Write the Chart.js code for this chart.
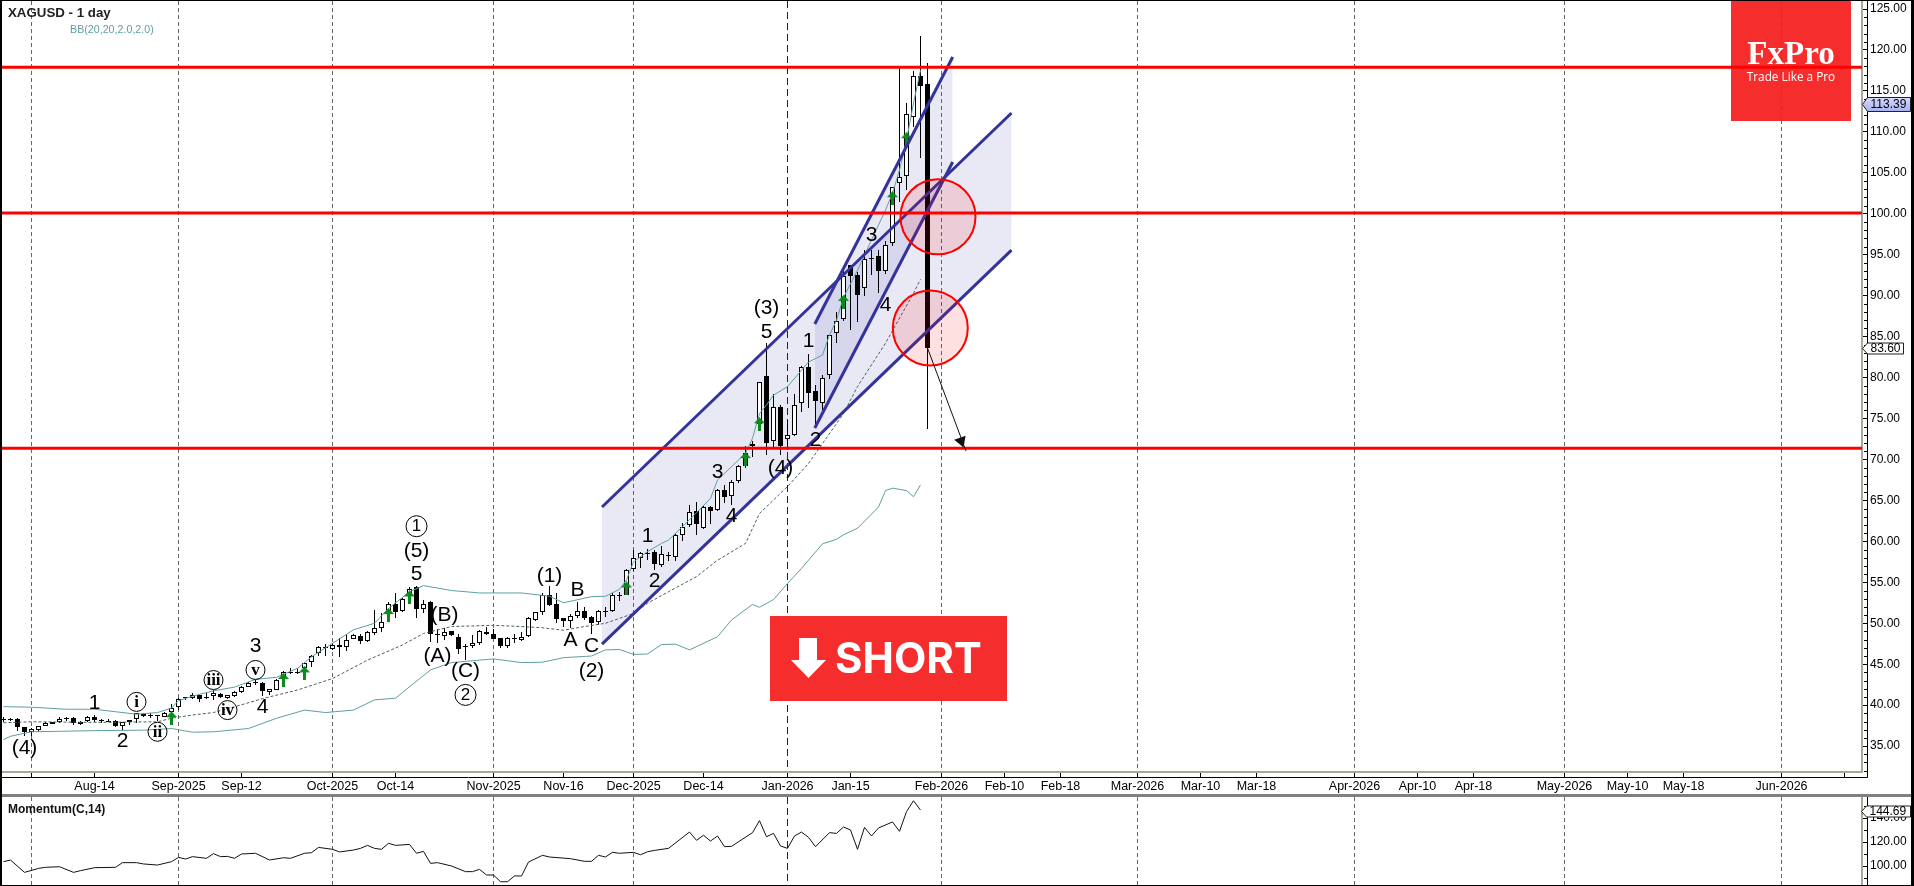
<!DOCTYPE html>
<html>
<head>
<meta charset="utf-8">
<title>XAGUSD - 1 day</title>
<script src="https://cdn.jsdelivr.net/npm/chart.js@4"></script>
<style>
  html, body { margin: 0; padding: 0; background: #fff; overflow: hidden; }
  #wrap { position: relative; width: 1914px; height: 886px; overflow: hidden; }
  #wrap canvas { position: absolute; left: 0; }
  #price { top: 0; }
  #momentum { top: 797px; }
  .frame { position: absolute; background: #000; }
</style>
</head>
<body>
<div id="wrap">
  <canvas id="price" width="1914" height="795"></canvas>
  <canvas id="momentum" width="1914" height="89"></canvas>
  <div class="frame" style="left:0;top:0;width:1914px;height:1px"></div>
  <div class="frame" style="left:0;top:0;width:2px;height:886px"></div>
  <div class="frame" style="left:1911px;top:0;width:3px;height:886px"></div>
  <div class="frame" style="left:0;top:885px;width:1914px;height:1px"></div>
  <div class="frame" style="left:2px;top:794px;width:1909px;height:3px;background:#808080"></div>
</div>
<script>
// OHLC, one entry per trading day
const opens = [
  38.3,38.3,38.35,37.3,36.75,37.0,37.45,37.9,37.9,38.3,
  38.45,37.7,38.05,38.6,38.15,38.1,38.1,37.5,37.9,38.3,
  38.95,38.75,38.75,38.6,39.15,39.8,40.95,40.9,41.25,40.85,
  41.1,41.4,40.9,41.1,41.65,42.25,42.8,42.7,41.55,41.9,
  43.5,44.1,44.1,44.5,45.25,46.35,47.05,46.9,47.4,47.05,
  48.1,48.5,47.85,48.85,49.4,51.55,52.4,51.5,53.5,54.4,
  51.8,52.55,48.7,48.45,49.0,48.35,47.2,47.2,47.65,48.95,
  48.65,48.2,47.25,48.1,47.95,48.5,50.45,51.35,53.4,52.35,
  50.6,50.3,50.85,51.45,50.75,50.2,51.5,51.55,53.4,53.5,
  56.6,58.0,58.5,58.7,57.15,58.3,58.15,60.75,61.95,63.7,
  61.6,64.15,63.8,66.25,65.55,67.4,69.2,71.65,74.3,80.2,
  72.25,76.4,72.45,73.0,76.85,81.25,78.35,76.95,80.35,85.4,
  87.1,93.75,92.5,90.95,94.5,94.85,93.0,96.4,103.75,104.6,
  111.8,116.8,115.85
];
const highs = [
  38.5,38.4,38.4,37.3,37.2,37.5,37.95,38.0,38.6,38.6,
  38.5,38.05,38.7,38.85,38.3,38.35,38.25,38.0,38.25,39.05,
  39.0,39.0,38.85,39.15,40.15,40.85,41.05,41.5,41.3,41.45,
  41.85,41.45,41.3,41.75,42.3,42.8,43.05,42.85,42.0,43.15,
  44.2,44.55,44.55,45.3,46.1,47.25,47.5,47.6,48.15,48.7,
  48.7,48.65,49.1,51.6,51.3,52.65,53.75,53.05,54.4,54.55,
  52.85,52.7,49.25,49.45,49.1,48.65,47.45,48.55,49.2,49.55,
  49.35,48.25,48.35,48.65,48.95,50.8,51.4,53.75,54.55,53.75,
  50.7,51.1,52.6,52.0,50.85,51.6,51.95,53.65,53.85,56.6,
  58.95,58.75,59.05,58.95,59.45,58.75,61.0,62.2,64.45,64.8,
  64.3,64.3,66.35,66.9,67.55,69.3,71.65,72.3,79.4,84.25,
  78.05,76.65,74.8,78.0,81.4,82.85,79.1,80.3,85.15,88.05,
  93.25,93.8,92.9,95.6,95.6,95.6,96.7,103.25,118.0,113.5,
  117.45,121.7,118.4
];
const lows = [
  38.0,38.1,36.9,36.2,36.2,36.7,37.4,37.7,37.85,38.1,
  37.55,37.55,38.0,37.9,37.85,37.9,37.3,36.95,37.55,37.8,
  38.6,38.45,38.1,38.55,38.6,39.4,40.65,40.7,40.4,40.7,
  40.65,40.9,40.7,40.95,41.5,42.2,42.45,41.1,41.25,41.85,
  43.05,43.8,43.8,44.2,44.7,46.05,46.0,46.7,45.9,46.65,
  48.05,47.45,47.75,48.55,48.95,50.4,50.6,51.4,52.45,50.7,
  51.3,47.75,47.55,47.95,48.45,46.25,45.5,46.95,47.35,48.55,
  48.05,46.95,46.95,47.55,47.85,48.35,50.3,51.0,52.1,50.05,
  49.5,49.4,50.6,50.4,48.7,49.8,50.8,51.4,52.75,53.4,
  56.4,56.7,57.7,56.5,56.9,57.6,57.65,60.1,61.8,60.8,
  61.45,62.1,63.75,64.65,64.45,67.15,68.9,70.3,73.6,70.55,
  71.55,70.55,71.15,72.85,75.85,76.25,74.0,76.05,79.8,84.2,
  86.9,85.8,86.8,89.9,92.5,90.3,92.7,96.05,101.45,102.9,
  110.6,106.8,73.7
];
const closes = [
  38.2,38.25,37.3,36.7,37.15,37.45,37.85,37.75,38.35,38.4,
  37.85,38.0,38.6,38.2,38.05,38.05,37.5,37.95,38.2,39.0,
  38.65,38.65,38.7,39.1,39.65,40.8,40.9,41.25,40.7,41.05,
  41.45,40.95,41.25,41.65,42.25,42.75,42.75,41.75,41.95,43.1,
  44.1,44.05,44.05,45.2,46.05,47.05,47.0,47.35,47.1,48.0,
  48.6,47.8,48.9,49.4,50.1,52.35,51.4,53.0,54.15,51.8,
  52.4,48.75,48.65,48.95,48.6,46.85,47.25,47.65,49.05,48.75,
  48.1,47.25,48.15,48.15,48.35,50.6,51.35,53.4,52.2,50.55,
  50.3,50.85,51.45,50.65,50.05,51.45,51.55,53.45,53.45,56.45,
  58.0,58.55,58.55,57.2,58.4,58.35,60.8,61.8,63.6,62.1,
  64.15,63.75,66.25,65.45,67.2,69.2,70.85,71.95,79.4,72.05,
  76.4,71.65,72.95,76.6,81.25,78.15,77.1,80.0,85.15,86.95,
  92.4,92.4,90.05,94.5,94.55,93.0,96.2,103.25,104.5,112.2,
  116.8,115.6,83.6
];

// Bollinger bands, vertices (bar number, value)
const bbUpperBars = [0,4,9,13,16,19,22,24,25,27,30,33,36,39,42,44,47,50,53,55,58,60,64,68,70,74,77,78,80,84,86,88,89,90,92,94,95,97,99,101,102,106,107,108,109,110,112,114,115,117,118,119,120,122,124,126,127,128,129,130,131];
const bbUpperVals = [39.82,39.75,39.5,39.5,39.2,38.9,39.1,39.65,40.55,41.1,41.75,42.2,43.15,43.4,44.5,45.9,47.55,49.2,50.0,51.8,53.85,54.6,54.0,53.7,53.7,53.7,53.4,53.3,52.5,53.25,53.3,54.15,55.3,57.5,58.75,59.75,60.15,61.8,63.5,65.25,67.49,70.75,72.6,75.6,76.65,77.85,78.9,80.9,81.9,82.75,85.2,87.0,89.8,93.1,96.8,100.45,102.5,105.35,109.0,113.5,117.55];
const bbMidBars = [0,4,13,22,24,27,30,33,37,42,47,52,57,60,64,68,70,74,77,80,83,86,90,92,95,99,102,106,108,112,115,120,122,126,130,131];
const bbMidVals = [37.85,37.97,37.9,37.97,38.4,38.8,39.1,39.8,40.8,41.85,43.25,45.5,47.35,48.75,49.6,49.7,49.75,49.6,49.45,49.15,49.6,50.0,51.2,52.45,53.85,55.7,57.7,59.75,63.4,66.7,69.5,75.6,78.9,84.2,90.3,92.0];
const bbLowerBars = [0,1,4,14,20,24,27,30,35,39,43,46,50,53,56,58,61,64,68,70,74,77,80,84,86,88,90,92,94,96,98,102,104,107,108,110,112,114,117,119,120,122,125,126,127,129,130,131];
const bbLowerVals = [35.8,36.2,36.75,36.9,36.95,37.15,36.7,36.75,37.15,38.4,39.4,39.1,39.4,40.65,40.85,42.25,44.3,45.2,45.5,45.65,45.2,45.25,45.8,46.0,46.75,46.8,46.2,46.25,47.4,47.45,46.75,48.35,50.4,52.3,51.95,52.9,54.85,56.7,59.7,60.25,60.8,61.6,64.2,66.2,66.5,66.2,65.45,66.9];

// Momentum(C,14)
const momentumBars = [0,1,3,5,6,8,10,11,13,16,17,19,20,22,24,25,26,27,29,30,31,32,33,34,36,38,40,41,43,44,45,47,48,50,51,52,53,54,55,56,58,59,60,61,62,64,66,67,68,69,70,71,72,73,74,75,77,78,81,83,84,85,86,87,88,90,91,92,93,95,98,99,100,101,102,103,104,107,108,109,110,111,112,113,114,115,116,118,119,120,121,122,123,124,125,127,128,129,130,131];
const momentumVals = [103.6,105,94.7,98,98.9,99.4,94.7,96.1,98.6,98.9,102.8,102.8,101.7,100.8,103.6,107.2,105.8,107.8,106.4,110.3,107.8,108,106.4,110,110.6,105,106.9,106.4,110.6,111.1,115.5,113.9,111.7,113.3,114.7,117.2,114.7,113.9,118.9,117.2,118,110.6,112.2,102.2,102.8,100,95.3,95.3,97.2,92.5,92.5,86.9,86.9,91.7,91.7,103.3,108.9,107.5,106.1,103.9,103.9,108.9,107.5,111.4,110.6,111.4,109.4,111.9,113,114.7,128.3,121.4,125.6,120.8,125,116.1,116.4,127.8,137.8,124.4,127.2,116.7,114.7,125,128.3,123.9,116.1,127.8,127.2,132.5,130,113.9,132.2,125,131.7,136.7,128.9,145.3,154.4,146.6];

// time axis: bar number where each tick sits, future months keep counting
const xTickBars = [4,13,25,34,47,56,70,80,90,100,112,121,134,143,151,162,171,179,193,202,210,223,232,240,254,263];
const xTickLabels = ['','Aug-14','Sep-2025','Sep-12','Oct-2025','Oct-14','Nov-2025','Nov-16','Dec-2025','Dec-14','Jan-2026','Jan-15','Feb-2026','Feb-10','Feb-18','Mar-2026','Mar-10','Mar-18','Apr-2026','Apr-10','Apr-18','May-2026','May-10','May-18','Jun-2026',''];
const monthBars = [4,25,47,70,90,112,134,162,193,223,254];
const priceTicks = [35,40,45,50,55,60,65,70,75,80,85,90,95,100,105,110,115,120,125];
const momentumTicks = [100,120,140];

// drawn objects
const levels = [117.9, 100.1, 71.36];
const bigChannelBars = [85.5, 144];
const bigChannelUpper = [64.2, 112.3];
const bigChannelLower = [47.46, 95.57];
const innerChannelBars = [115.9, 135.6];
const innerChannelUpper = [86.54, 119.14];
const innerChannelLower = [73.84, 106.32];
const circleBars = [133.5, 132.4];
const circleVals = [99.64, 86.05];
const arrowBars = [132, 137.5];
const arrowVals = [83.6, 71.03];
const arrowHeadBar = [136.8];
const arrowHeadVal = [72.25];
const signalBars = [24,40,43,55,58,89,106,108,120,127,129];
const signalVals = [38.4,43.07,43.88,51.0,53.15,54.25,70.05,74.3,89.25,101.9,109.1];

// Elliott wave counts
const waveText = ['(4)','1','2','3','4','(5)','5','(B)','(A)','(C)','(1)','B','A','C','(2)','1','2','4','3','(3)','5','1','2','(4)','4','3'];
const waveBars = [3,13,17,36,37,59,59,63,62,66,78,82,81,84,84,92,93,104,102,109,109,115,116,111,126,124];
const waveVals = [34.8,40.3,35.6,47.25,39.75,58.85,56,51,46,44.2,55.8,54.05,47.95,47.25,44.1,60.6,55.1,63.1,68.5,88.45,85.6,84.4,72.35,68.9,88.85,97.4];
const circledText = ['i','ii','iii','iv','v','1','2'];
const circledBars = [19,22,30,32,36,59,66];
const circledVals = [40.4,36.75,43.07,39.4,44.3,61.85,41.25];

const lastPrice = 83.6;
const bidPrice = 113.39;
const lastMomentum = 144.69;

Chart.defaults.font.family = '"Liberation Sans", Arial, sans-serif';
Chart.defaults.font.size = 12;
Chart.defaults.color = '#000';

const BLUE = '#33339b';
const TEAL = '#5f9ea0';
const RED_BOX = '#f62d2d';

// bars sit 7px apart, first one at 3.5px, plot runs from 2px to 1862px
const xMin = -3 / 14;
const xMax = xMin + 1860 / 7;

function zip(xs, ys) {
    return xs.map((x, i) => ({ x: x, y: ys[i] }));
}

function lineSet(xs, ys, color, width, order, extra) {
    return Object.assign({
        type: 'line',
        data: zip(xs, ys),
        borderColor: color,
        borderWidth: width,
        pointRadius: 0,
        tension: 0,
        fill: false,
        order: order
    }, extra || {});
}

function shadeSet(xs, ys, target, order) {
    return lineSet(xs, ys, 'transparent', 0, order, { fill: target, backgroundColor: 'rgba(52,52,160,0.11)' });
}

// small green up arrow used as a point image
function makeSignalArrow() {
    const c = document.createElement('canvas');
    c.width = 11;
    c.height = 14;
    const g = c.getContext('2d');
    g.fillStyle = '#0b8a1e';
    g.beginPath();
    g.moveTo(5.5, 0);
    g.lineTo(11, 6);
    g.lineTo(7, 6);
    g.lineTo(7, 14);
    g.lineTo(4, 14);
    g.lineTo(4, 6);
    g.lineTo(0, 6);
    g.closePath();
    g.fill();
    return c;
}

// no automatic room for the first and last labels, the plot edges are fixed
function noLabelPadding(scale) {
    scale.paddingLeft = 0;
    scale.paddingRight = 0;
    scale.paddingTop = 0;
    scale.paddingBottom = 0;
}

function xAxisOptions(showLabels, height) {
    return {
        type: 'linear',
        min: xMin,
        max: xMax,
        offset: false,
        afterBuildTicks: function (scale) {
            scale.ticks = xTickBars.map(v => ({ value: v }));
        },
        afterFit: function (scale) {
            scale.height = height;
            noLabelPadding(scale);
        },
        grid: {
            offset: false,
            drawTicks: showLabels,
            tickLength: 5,
            tickColor: '#000',
            color: ctx => {
                if (!ctx.tick || !monthBars.includes(ctx.tick.value)) return 'transparent';
                return ctx.tick.value === 112 ? '#222' : '#666';
            },
            lineWidth: 1
        },
        border: {
            display: showLabels,
            color: '#a8a89a',
            width: 2,
            dash: ctx => (ctx.tick && ctx.tick.value === 112) ? [7, 4] : [4, 3]
        },
        ticks: {
            display: showLabels,
            autoSkip: false,
            maxRotation: 0,
            minRotation: 0,
            padding: 2,
            color: '#000',
            font: { size: 12.5 },
            callback: (value, index) => xTickLabels[index]
        }
    };
}

function yAxisOptions(min, max, majors, step, minorStep) {
    return {
        type: 'linear',
        position: 'right',
        min: min,
        max: max,
        afterBuildTicks: function (scale) {
            const all = [];
            for (let v = Math.ceil(min / minorStep) * minorStep; v <= max; v += minorStep) all.push({ value: v });
            scale.ticks = all;
        },
        afterFit: function (scale) {
            scale.width = 52;
            noLabelPadding(scale);
        },
        grid: {
            drawOnChartArea: false,
            tickLength: 5,
            tickColor: ctx => (ctx.tick && ctx.tick.value % step === 0) ? '#000' : 'transparent'
        },
        border: { color: '#a8a89a', width: 2 },
        ticks: {
            autoSkip: false,
            padding: 3,
            color: '#000',
            font: { size: 12 },
            callback: value => majors.includes(value) ? value.toFixed(2) : ''
        }
    };
}

// snap candle edges to whole pixels, the original chart has no blurred bodies
const snapBars = {
    id: 'snapBars',
    afterDatasetsUpdate(chart) {
        chart.getSortedVisibleDatasetMetas().forEach(meta => {
            if (meta.type !== 'bar') return;
            meta.data.forEach(el => {
                el.y = Math.round(el.y);
                el.base = Math.round(el.base);
                if (el.y === el.base) el.base = el.y + 1;
            });
        });
    }
};

function drawMinorTicks(chart, step) {
    const s = chart.scales.y;
    const ctx = chart.ctx;
    ctx.save();
    ctx.strokeStyle = '#000';
    ctx.lineWidth = 1;
    ctx.beginPath();
    s.ticks.forEach(t => {
        if (t.value % step === 0) return;
        const y = Math.round(s.getPixelForValue(t.value)) + 0.5;
        ctx.moveTo(s.left + 2, y);
        ctx.lineTo(s.left + 5, y);
    });
    ctx.stroke();
    ctx.restore();
}

function drawTag(ctx, left, right, yc, h, fill, text) {
    ctx.save();
    ctx.fillStyle = fill;
    ctx.strokeStyle = '#222';
    ctx.lineWidth = 1;
    ctx.beginPath();
    ctx.moveTo(left, yc);
    ctx.lineTo(left + 5, yc - h / 2);
    ctx.lineTo(right, yc - h / 2);
    ctx.lineTo(right, yc + h / 2);
    ctx.lineTo(left + 5, yc + h / 2);
    ctx.closePath();
    ctx.fill();
    ctx.stroke();
    ctx.fillStyle = '#000';
    ctx.font = '12px "Liberation Sans"';
    ctx.textAlign = 'left';
    ctx.textBaseline = 'middle';
    ctx.fillText(text, left + 8, yc + 0.5);
    ctx.restore();
}

// logo goes under the levels, the red line runs across it
const logoPlugin = {
    id: 'logo',
    beforeDatasetsDraw(chart) {
        const ctx = chart.ctx;
        ctx.save();
        ctx.fillStyle = 'rgba(245,27,27,0.92)';
        ctx.fillRect(1731, 1, 120, 120);
        ctx.fillStyle = '#fff';
        ctx.textAlign = 'center';
        ctx.textBaseline = 'alphabetic';
        ctx.font = 'bold 33px "Liberation Serif"';
        ctx.fillText('FxPro', 1791, 64);
        ctx.font = '11.8px "Open Sans"';
        ctx.fillText('Trade Like a Pro', 1791, 81);
        ctx.restore();
    }
};

const overlayPlugin = {
    id: 'overlay',
    afterDatasetsDraw(chart) {
        const ctx = chart.ctx;
        const x = chart.scales.x;
        const y = chart.scales.y;

        ctx.save();
        ctx.fillStyle = '#000';
        ctx.textAlign = 'center';
        ctx.textBaseline = 'middle';
        ctx.font = '21px "Liberation Sans"';
        waveText.forEach((t, i) => {
            ctx.fillText(t, x.getPixelForValue(waveBars[i]), y.getPixelForValue(waveVals[i]));
        });

        circledText.forEach((t, i) => {
            const px = x.getPixelForValue(circledBars[i]);
            const py = y.getPixelForValue(circledVals[i]);
            const digit = t === '1' || t === '2';
            ctx.strokeStyle = '#000';
            ctx.lineWidth = 1;
            ctx.beginPath();
            ctx.arc(px, py, digit ? 10.5 : 9.5, 0, Math.PI * 2);
            ctx.stroke();
            ctx.font = digit ? '17px "Liberation Sans"' : 'bold 17px "Liberation Serif"';
            ctx.fillText(t, px, py + 0.5);
        });
        ctx.restore();

        // SHORT box
        ctx.save();
        ctx.fillStyle = RED_BOX;
        ctx.fillRect(770, 616, 237, 85);
        ctx.fillStyle = '#fff';
        ctx.beginPath();
        ctx.moveTo(799, 638);
        ctx.lineTo(817, 638);
        ctx.lineTo(817, 660);
        ctx.lineTo(826, 660);
        ctx.lineTo(808.5, 678);
        ctx.lineTo(791, 660);
        ctx.lineTo(799, 660);
        ctx.closePath();
        ctx.fill();
        ctx.font = 'bold 42px Inter';
        ctx.textAlign = 'left';
        ctx.textBaseline = 'alphabetic';
        ctx.fillText('SHORT', 835, 673);
        ctx.restore();
    },
    afterDraw(chart) {
        const ctx = chart.ctx;
        const y = chart.scales.y;
        drawMinorTicks(chart, 5);

        ctx.save();
        ctx.strokeStyle = '#000';
        ctx.lineWidth = 1;
        ctx.beginPath();
        ctx.moveTo(2, 777.5);
        ctx.lineTo(1867.5, 777.5);
        ctx.lineTo(1867.5, 0);
        ctx.stroke();

        ctx.fillStyle = '#222';
        ctx.textAlign = 'left';
        ctx.textBaseline = 'middle';
        ctx.font = 'bold 13.3px "Liberation Sans"';
        ctx.fillText('XAGUSD - 1 day', 8, 13);
        ctx.fillStyle = TEAL;
        ctx.font = '10.7px "Liberation Sans"';
        ctx.fillText('BB(20,20,2.0,2.0)', 70, 30.5);
        ctx.restore();

        const grad = ctx.createLinearGradient(0, y.getPixelForValue(bidPrice) - 7, 0, y.getPixelForValue(bidPrice) + 7);
        grad.addColorStop(0, '#d6dcfb');
        grad.addColorStop(1, '#a9b2f2');
        drawTag(ctx, 1862.5, 1910.5, Math.round(y.getPixelForValue(bidPrice)) + 0.5, 14, grad, bidPrice.toFixed(2));
        drawTag(ctx, 1862.5, 1903.5, Math.round(y.getPixelForValue(lastPrice)) + 0.5, 11, '#fff', lastPrice.toFixed(2));
    }
};

const priceChart = new Chart(document.getElementById('price'), {
    type: 'bar',
    data: {
        datasets: [
            // light channel areas, under the candles
            shadeSet(bigChannelBars, bigChannelUpper, '+1', 90),
            shadeSet(bigChannelBars, bigChannelLower, false, 91),
            shadeSet(innerChannelBars, innerChannelUpper, '+1', 92),
            shadeSet(innerChannelBars, innerChannelLower, false, 93),
            {
                type: 'bar',
                data: opens.map((o, i) => ({ x: i, y: [lows[i], highs[i]] })),
                backgroundColor: '#000',
                borderWidth: 0,
                barThickness: 1,
                grouped: false,
                inflateAmount: 0,
                order: 71
            },
            {
                type: 'bar',
                data: opens.map((o, i) => ({ x: i, y: [o, closes[i]] })),
                backgroundColor: opens.map((o, i) => closes[i] >= o ? '#fff' : '#000'),
                borderColor: '#000',
                borderWidth: 1,
                borderSkipped: false,
                barThickness: 5,
                grouped: false,
                inflateAmount: 0,
                order: 70
            },
            lineSet(bbUpperBars, bbUpperVals, TEAL, 1, 60),
            lineSet(bbLowerBars, bbLowerVals, TEAL, 1, 60),
            lineSet(bbMidBars, bbMidVals, '#4a5f60', 1, 60, { borderDash: [3, 2] }),
            lineSet(signalBars, signalVals, 'transparent', 0, 50, {
                showLine: false,
                pointRadius: 6,
                pointStyle: makeSignalArrow()
            }),
            lineSet(bigChannelBars, bigChannelUpper, BLUE, 3, 40),
            lineSet(bigChannelBars, bigChannelLower, BLUE, 3, 40),
            lineSet(innerChannelBars, innerChannelUpper, BLUE, 3, 40),
            lineSet(innerChannelBars, innerChannelLower, BLUE, 3, 40),
            lineSet(circleBars, circleVals, '#ff0000', 0, 30, {
                showLine: false,
                pointRadius: 37.5,
                pointBackgroundColor: 'rgba(255,0,0,0.12)',
                pointBorderColor: '#ff0000',
                pointBorderWidth: 2
            }),
            lineSet([xMin, xMax], [levels[0], levels[0]], '#ff0000', 3, 20),
            lineSet([xMin, xMax], [levels[1], levels[1]], '#ff0000', 3, 20),
            lineSet([xMin, xMax], [levels[2], levels[2]], '#ff0000', 3, 20),
            lineSet(arrowBars, arrowVals, '#111', 1, 10),
            lineSet(arrowHeadBar, arrowHeadVal, '#111', 0, 10, {
                showLine: false,
                pointStyle: 'triangle',
                pointRadius: 7,
                pointRotation: 160,
                pointBackgroundColor: '#111',
                pointBorderWidth: 0
            })
        ]
    },
    options: {
        responsive: false,
        animation: false,
        devicePixelRatio: 1,
        layout: { autoPadding: false, padding: { left: 2, top: 1, right: 0, bottom: 0 } },
        plugins: { legend: { display: false }, tooltip: { enabled: false }, title: { display: false } },
        events: [],
        scales: {
            x: xAxisOptions(true, 23),
            y: yAxisOptions(31.84, 125.98, priceTicks, 5, 1)
        }
    },
    plugins: [snapBars, logoPlugin, overlayPlugin]
});

const momentumPlugin = {
    id: 'momentumText',
    afterDraw(chart) {
        const ctx = chart.ctx;
        drawMinorTicks(chart, 20);
        ctx.save();
        ctx.strokeStyle = '#000';
        ctx.lineWidth = 1;
        ctx.beginPath();
        ctx.moveTo(1867.5, 0);
        ctx.lineTo(1867.5, 88);
        ctx.stroke();
        ctx.fillStyle = '#111';
        ctx.font = 'bold 12px "Liberation Sans"';
        ctx.textAlign = 'left';
        ctx.textBaseline = 'middle';
        ctx.fillText('Momentum(C,14)', 8, 12.5);
        ctx.restore();
        drawTag(ctx, 1861.5, 1910.5, 14.5, 11, '#fff', lastMomentum.toFixed(2));
    }
};

const momentumChart = new Chart(document.getElementById('momentum'), {
    type: 'line',
    data: {
        datasets: [lineSet(momentumBars, momentumVals, '#111', 1, 1)]
    },
    options: {
        responsive: false,
        animation: false,
        devicePixelRatio: 1,
        layout: { autoPadding: false, padding: { left: 2, top: 0, right: 0, bottom: 0 } },
        plugins: { legend: { display: false }, tooltip: { enabled: false } },
        events: [],
        scales: {
            x: xAxisOptions(false, 1),
            y: yAxisOptions(84.17, 157.5, momentumTicks, 20, 10)
        }
    },
    plugins: [momentumPlugin]
});
</script>
</body>
</html>
